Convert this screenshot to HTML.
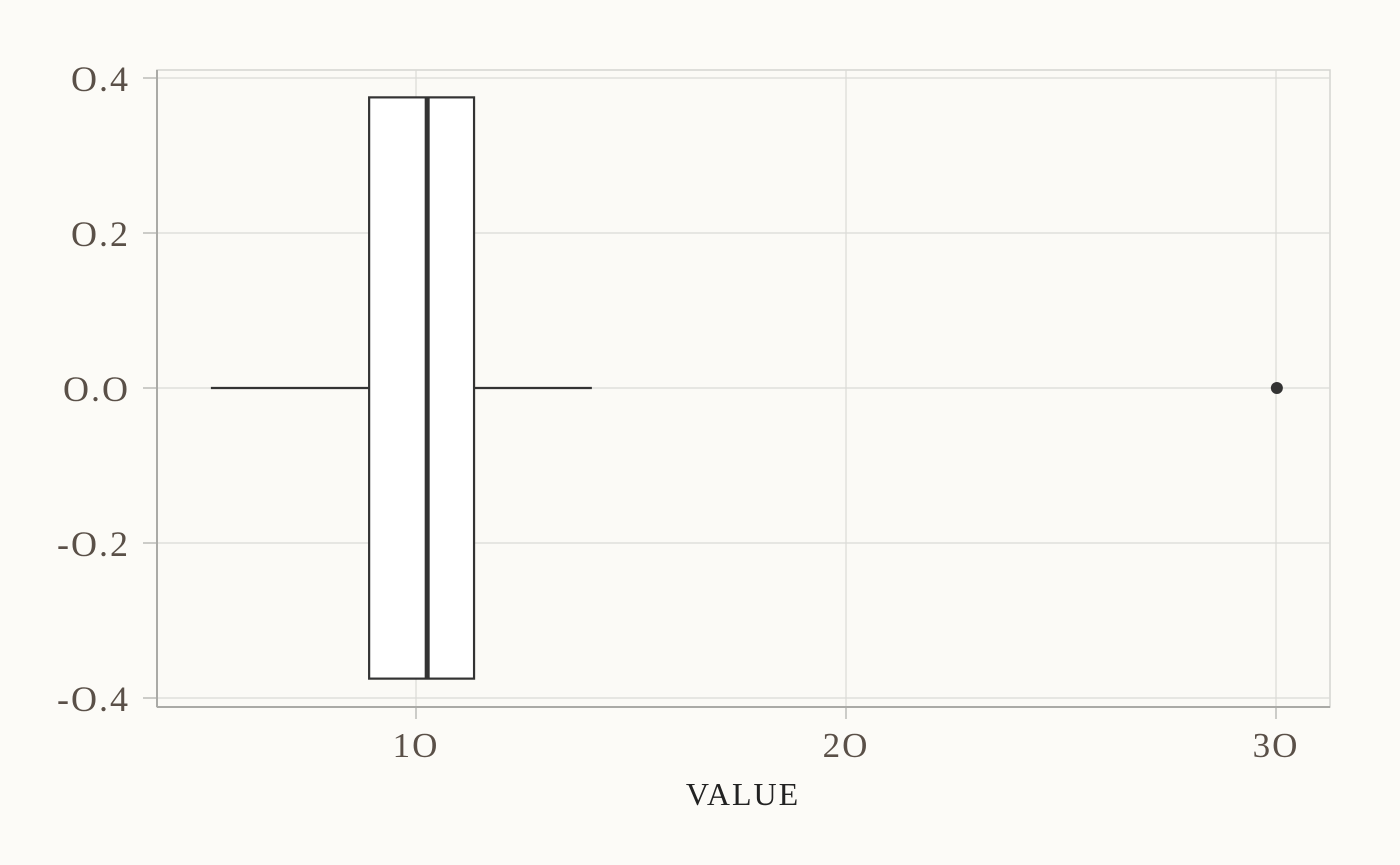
<!DOCTYPE html>
<html><head><meta charset="utf-8"><style>
body{margin:0;background:#fcfbf7;}
svg{display:block;font-family:"Liberation Serif",serif;}
</style></head><body>
<svg id="c" width="1400" height="865"></svg>
<script>
const xTicks=[10,20,30];
const yTicks=[0.4,0.2,0.0,-0.2,-0.4];
const yTickLabels=["O.4","O.2","O.O","-O.2","-O.4"];
const xTickLabels=["1O","2O","3O"];
const boxStats=[5.23,8.91,10.26,11.35,14.09];
const outliers=[30.02];
const boxHalfWidth=[0.375];
const L=157,R=1330,T=70,B=707;
const X=v=>416+(v-10)*43;
const Y=v=>388-v*775;
const svg=document.getElementById('c');
const NS='http://www.w3.org/2000/svg';
function mk(t,a,txt){const e=document.createElementNS(NS,t);for(const k in a)e.setAttribute(k,a[k]);if(txt!=null)e.textContent=txt;svg.appendChild(e);return e;}
let e=mk('rect',{x:L,y:T,width:R-L,height:B-T,fill:'#fbfaf6',stroke:'#d4d4d0','stroke-width':1.5});


xTicks.forEach((v,i)=>{
 let g=mk('line',{x1:X(v),x2:X(v),y1:T,y2:B,stroke:'#dadad6','stroke-width':1.2});
 
 
 let t=mk('line',{x1:X(v),x2:X(v),y1:B,y2:B+12,stroke:'#bdbdb9','stroke-width':1.5});
 
 
 let l=mk('text',{x:X(v),y:B+50,'text-anchor':'middle','font-size':35,'letter-spacing':2,fill:'#5a5048'},xTickLabels[i]);
 
 
});
yTicks.forEach((v,i)=>{
 let g=mk('line',{x1:L,x2:R,y1:Y(v),y2:Y(v),stroke:'#dadad6','stroke-width':1.2});
 
 
 let t=mk('line',{x1:L-14,x2:L,y1:Y(v),y2:Y(v),stroke:'#bdbdb9','stroke-width':1.5});
 
 
 let l=mk('text',{x:L-27,y:Y(v)+13,'text-anchor':'end','font-size':36,'letter-spacing':2,fill:'#5a5048'},yTickLabels[i]);
 
 
});
e=mk('line',{x1:L,x2:L,y1:T,y2:B,stroke:'#aaaaa6','stroke-width':2});


e=mk('line',{x1:L,x2:R,y1:B,y2:B,stroke:'#aaaaa6','stroke-width':2});


const [mn,q1,md,q3,mx]=boxStats,h=boxHalfWidth[0];
e=mk('line',{x1:X(mn),x2:X(q1),y1:Y(0),y2:Y(0),stroke:'#333','stroke-width':2.2});


e=mk('line',{x1:X(q3),x2:X(mx),y1:Y(0),y2:Y(0),stroke:'#333','stroke-width':2.2});


e=mk('rect',{x:X(q1),y:Y(h),width:X(q3)-X(q1),height:Y(-h)-Y(h),fill:'#fff',stroke:'#333','stroke-width':2.2});


e=mk('line',{x1:X(md),x2:X(md),y1:Y(h),y2:Y(-h),stroke:'#333','stroke-width':5});


outliers.forEach(v=>{
 let p=mk('circle',{cx:X(v),cy:Y(0),r:6,fill:'#333'});
 
 
});
e=mk('text',{x:743,y:805,'text-anchor':'middle','font-size':32,fill:'#222','letter-spacing':2},'VALUE');


</script>
</body></html>
